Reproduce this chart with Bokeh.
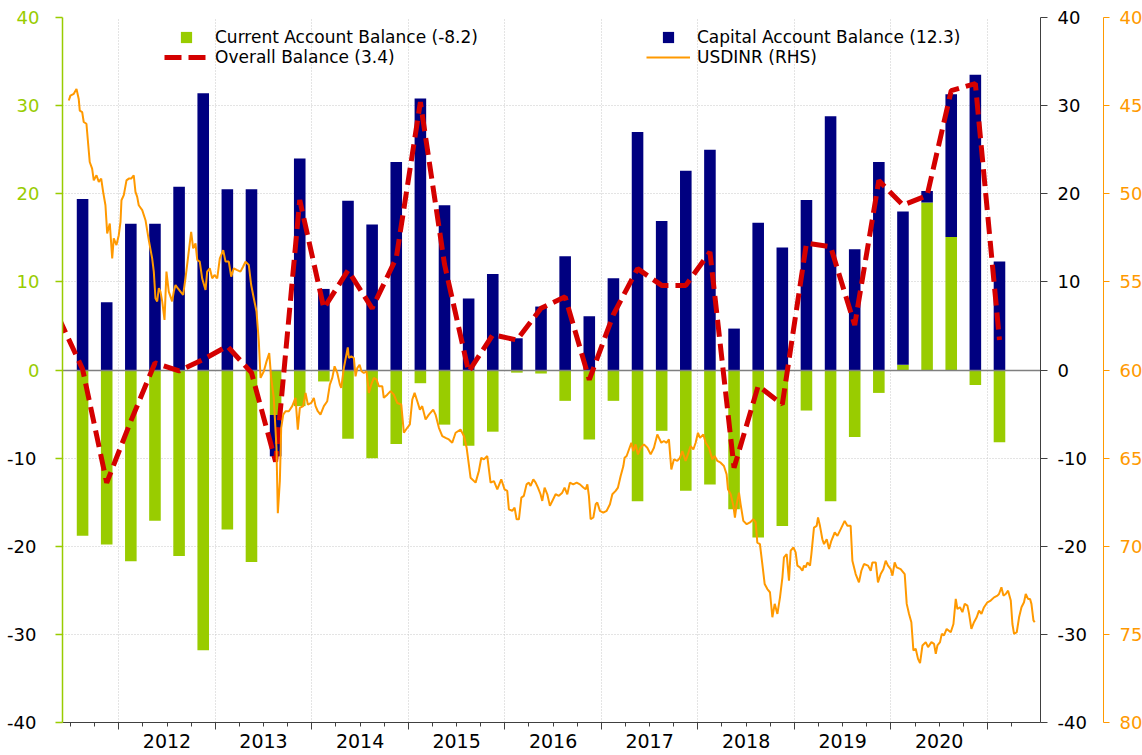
from bokeh.plotting import figure
from bokeh.models import (Range1d, LinearAxis, FixedTicker, Legend, LegendItem,
                          ColumnDataSource, Grid, CustomJSTickFormatter)
from bokeh.embed import file_html
from bokeh.resources import INLINE

# ---------------- data ----------------
quarters = ["2011Q3", "2011Q4",
            "2012Q1", "2012Q2", "2012Q3", "2012Q4",
            "2013Q1", "2013Q2", "2013Q3", "2013Q4",
            "2014Q1", "2014Q2", "2014Q3", "2014Q4",
            "2015Q1", "2015Q2", "2015Q3", "2015Q4",
            "2016Q1", "2016Q2", "2016Q3", "2016Q4",
            "2017Q1", "2017Q2", "2017Q3", "2017Q4",
            "2018Q1", "2018Q2", "2018Q3", "2018Q4",
            "2019Q1", "2019Q2", "2019Q3", "2019Q4",
            "2020Q1", "2020Q2", "2020Q3", "2020Q4",
            "2021Q1"]
current_account = [-18.8, -19.8,
                   -21.7, -17.1, -21.1, -31.8,
                   -18.1, -21.8, -5.1, -4.1,
                   -1.3, -7.8, -10.0, -8.4,
                   -1.5, -6.2, -8.6, -7.0,
                   -0.3, -0.4, -3.5, -7.9,
                   -3.5, -14.9, -6.9, -13.7,
                   -13.0, -15.8, -19.0, -17.7,
                   -4.6, -14.9, -7.6, -2.6,
                   0.6, 19.0, 15.1, -1.7,
                   -8.2]
capital_account = [19.4, 7.7,
                   16.6, 16.6, 20.8, 31.4,
                   20.5, 20.5, -4.7, 24.0,
                   9.2, 19.2, 16.5, 23.6,
                   30.8, 18.7, 8.1, 10.9,
                   3.6, 7.2, 12.9, 6.1,
                   10.4, 27.0, 16.9, 22.6,
                   25.0, 4.7, 16.7, 13.9,
                   19.3, 28.8, 13.7, 23.6,
                   17.4, 1.3, 16.2, 33.5,
                   12.3]
ob_quarters = ["2011Q2"] + quarters
overall_balance = [6.0, 0.1, -12.8,
                   -5.8, 0.8, -0.1, 1.2,
                   2.7, -0.3, -10.4, 19.3,
                   7.0, 11.3, 7.0, 12.7,
                   30.4, 12.0, -0.2, 4.0,
                   3.4, 7.0, 8.3, -1.1,
                   6.3, 11.5, 9.6, 9.6,
                   13.4, -11.1, -1.8, -3.9,
                   14.4, 14.0, 5.1, 21.5,
                   18.7, 19.8, 31.7, 32.5,
                   3.4]

usdinr_dates = [2011.482, 2011.499, 2011.534, 2011.562, 2011.585, 2011.596, 2011.621, 2011.637, 2011.665,
                2011.699, 2011.724, 2011.741, 2011.769, 2011.793, 2011.818, 2011.838, 2011.862, 2011.880,
                2011.907, 2011.932, 2011.948, 2011.976, 2012.000, 2012.018, 2012.028, 2012.052, 2012.080,
                2012.104, 2012.129, 2012.155, 2012.173, 2012.191, 2012.207, 2012.243, 2012.277, 2012.311,
                2012.346, 2012.363, 2012.380, 2012.398, 2012.415, 2012.432, 2012.450, 2012.474, 2012.494,
                2012.518, 2012.553, 2012.570, 2012.588, 2012.611, 2012.639, 2012.667, 2012.691, 2012.725,
                2012.750, 2012.771, 2012.795, 2012.813, 2012.839, 2012.864, 2012.899, 2012.916, 2012.943,
                2012.968, 2012.992, 2013.020, 2013.047, 2013.082, 2013.106, 2013.140, 2013.165, 2013.192,
                2013.227, 2013.261, 2013.289, 2013.313, 2013.347, 2013.372, 2013.399, 2013.427, 2013.451,
                2013.469, 2013.503, 2013.531, 2013.559, 2013.579, 2013.606, 2013.634, 2013.648, 2013.669,
                2013.683, 2013.704, 2013.728, 2013.762, 2013.797, 2013.831, 2013.855, 2013.876, 2013.911,
                2013.935, 2013.959, 2013.994, 2014.021, 2014.039, 2014.062, 2014.090, 2014.125, 2014.160,
                2014.187, 2014.212, 2014.236, 2014.264, 2014.291, 2014.305, 2014.332, 2014.373, 2014.384,
                2014.409, 2014.436, 2014.453, 2014.471, 2014.495, 2014.515, 2014.539, 2014.567, 2014.591,
                2014.616, 2014.643, 2014.671, 2014.695, 2014.730, 2014.746, 2014.782, 2014.816, 2014.850,
                2014.885, 2014.927, 2014.954, 2014.989, 2015.016, 2015.041, 2015.065, 2015.093, 2015.120,
                2015.144, 2015.179, 2015.213, 2015.258, 2015.282, 2015.317, 2015.352, 2015.386, 2015.420,
                2015.455, 2015.490, 2015.541, 2015.576, 2015.604, 2015.645, 2015.697, 2015.731, 2015.756,
                2015.783, 2015.818, 2015.852, 2015.887, 2015.922, 2015.963, 2015.997, 2016.025, 2016.042,
                2016.077, 2016.101, 2016.122, 2016.146, 2016.171, 2016.197, 2016.225, 2016.249, 2016.267,
                2016.295, 2016.319, 2016.343, 2016.370, 2016.388, 2016.412, 2016.440, 2016.467, 2016.492,
                2016.526, 2016.560, 2016.595, 2016.619, 2016.647, 2016.674, 2016.709, 2016.744, 2016.778,
                2016.813, 2016.837, 2016.855, 2016.871, 2016.889, 2016.917, 2016.941, 2016.958, 2016.985,
                2017.020, 2017.055, 2017.089, 2017.114, 2017.148, 2017.172, 2017.200, 2017.228, 2017.241,
                2017.262, 2017.286, 2017.311, 2017.331, 2017.355, 2017.379, 2017.407, 2017.441, 2017.476,
                2017.511, 2017.545, 2017.580, 2017.597, 2017.621, 2017.648, 2017.676, 2017.700, 2017.725,
                2017.752, 2017.787, 2017.814, 2017.839, 2017.873, 2017.897, 2017.925, 2017.953, 2017.977,
                2018.001, 2018.022, 2018.057, 2018.081, 2018.115, 2018.150, 2018.174, 2018.202, 2018.236,
                2018.270, 2018.298, 2018.312, 2018.340, 2018.368, 2018.384, 2018.402, 2018.426, 2018.443,
                2018.471, 2018.506, 2018.540, 2018.575, 2018.599, 2018.616, 2018.643, 2018.668, 2018.692,
                2018.720, 2018.747, 2018.772, 2018.796, 2018.824, 2018.851, 2018.876, 2018.892, 2018.920,
                2018.944, 2018.962, 2018.990, 2019.013, 2019.031, 2019.058, 2019.083, 2019.099, 2019.117,
                2019.135, 2019.162, 2019.176, 2019.203, 2019.231, 2019.245, 2019.265, 2019.290, 2019.307,
                2019.335, 2019.359, 2019.383, 2019.418, 2019.446, 2019.480, 2019.521, 2019.549, 2019.583,
                2019.601, 2019.635, 2019.669, 2019.694, 2019.721, 2019.763, 2019.791, 2019.808, 2019.843,
                2019.866, 2019.894, 2019.922, 2019.946, 2019.970, 2019.998, 2020.016, 2020.039, 2020.060,
                2020.101, 2020.143, 2020.164, 2020.188, 2020.212, 2020.233, 2020.257, 2020.281, 2020.302,
                2020.327, 2020.361, 2020.385, 2020.420, 2020.447, 2020.465, 2020.482, 2020.509, 2020.527,
                2020.550, 2020.578, 2020.620, 2020.648, 2020.672, 2020.689, 2020.716, 2020.741, 2020.765,
                2020.793, 2020.810, 2020.834, 2020.861, 2020.889, 2020.913, 2020.938, 2020.965, 2021.000,
                2021.034, 2021.069, 2021.104, 2021.120, 2021.145, 2021.166, 2021.190, 2021.214, 2021.242,
                2021.259, 2021.276, 2021.304, 2021.328, 2021.353, 2021.379, 2021.397, 2021.421, 2021.442,
                2021.456, 2021.477, 2021.490]
usdinr = [44.71, 44.43, 44.33, 44.05, 44.62, 45.28, 45.37, 45.93, 46.03,
          48.20, 48.57, 49.24, 48.95, 49.33, 49.14, 49.89, 50.65, 52.25,
          51.69, 53.67, 52.53, 52.91, 52.35, 51.59, 50.37, 50.08, 49.24,
          49.14, 49.14, 48.95, 49.89, 50.18, 50.65, 50.93, 51.50, 52.63,
          53.67, 54.42, 55.93, 56.11, 55.36, 55.55, 56.11, 57.16, 54.42,
          55.55, 56.11, 55.55, 55.18, 55.36, 55.55, 55.74, 54.80, 53.29,
          52.16, 53.10, 52.82, 53.76, 53.85, 54.80, 55.46, 54.42, 54.23,
          54.80, 54.61, 54.80, 53.67, 53.20, 53.85, 53.85, 54.70, 54.23,
          54.33, 54.42, 54.13, 53.85, 54.04, 55.18, 55.93, 56.68, 58.38,
          60.45, 60.07, 59.51, 59.04, 60.45, 61.58, 64.41, 68.13, 66.30,
          63.28, 62.53, 62.34, 62.34, 62.05, 61.58, 63.38, 62.15, 62.05,
          61.30, 61.96, 61.87, 61.58, 62.05, 62.34, 62.53, 62.05, 61.77,
          60.83, 60.45, 59.79, 60.17, 60.83, 61.02, 59.89, 58.72, 59.32,
          59.23, 59.32, 60.36, 59.89, 59.70, 60.07, 60.17, 60.07, 61.30,
          60.83, 60.45, 60.55, 60.92, 60.92, 61.58, 61.40, 61.20, 61.40,
          61.87, 61.96, 63.56, 63.28, 63.09, 61.68, 61.30, 61.77, 62.25,
          62.05, 62.81, 62.53, 62.25, 62.53, 63.28, 63.75, 63.85, 63.94,
          64.13, 63.56, 63.38, 63.75, 64.41, 66.11, 66.39, 65.73, 64.98,
          65.07, 64.88, 66.39, 66.30, 66.77, 66.20, 66.77, 66.86, 67.90,
          67.99, 67.81, 68.47, 68.47, 67.24, 67.14, 66.49, 66.39, 66.58,
          66.20, 66.39, 66.67, 67.05, 67.43, 66.67, 67.05, 67.71, 67.43,
          67.05, 67.14, 66.96, 66.67, 67.05, 66.39, 66.49, 66.39, 66.49,
          66.67, 66.77, 66.49, 67.14, 68.47, 68.37, 67.62, 67.52, 67.99,
          68.09, 67.99, 67.62, 67.05, 66.86, 66.67, 66.01, 65.45, 64.98,
          64.88, 64.51, 64.13, 64.60, 64.22, 64.79, 64.41, 64.22, 64.41,
          64.79, 64.41, 63.66, 63.85, 64.13, 64.03, 64.13, 63.94, 65.64,
          65.07, 65.16, 64.98, 64.60, 65.16, 64.79, 64.32, 64.51, 64.13,
          63.56, 63.85, 63.66, 64.13, 64.41, 65.07, 64.88, 65.16, 65.26,
          65.45, 65.92, 66.77, 67.05, 67.71, 68.37, 67.62, 66.96, 67.62,
          68.56, 68.75, 68.65, 68.47, 68.65, 69.79, 69.88, 71.01, 72.14,
          72.43, 72.61, 74.03, 73.27, 73.84, 72.90, 71.76, 70.63, 70.45,
          71.95, 70.25, 70.07, 70.35, 71.10, 71.20, 71.39, 71.10, 71.20,
          70.92, 71.10, 70.45, 68.94, 68.84, 68.37, 68.84, 69.60, 69.88,
          69.60, 70.16, 69.69, 69.22, 69.41, 69.03, 68.56, 68.84, 68.84,
          70.82, 71.58, 72.05, 71.39, 71.01, 71.10, 71.39, 70.92, 70.92,
          72.05, 71.58, 71.30, 70.82, 71.10, 71.30, 71.67, 70.92, 71.20,
          71.30, 71.58, 73.27, 73.84, 74.31, 75.91, 75.82, 76.39, 76.63,
          75.63, 75.44, 75.72, 75.44, 75.54, 76.10, 75.63, 75.44, 74.97,
          75.06, 74.69, 74.88, 74.41, 72.99, 73.56, 73.46, 73.74, 73.27,
          73.37, 73.84, 74.69, 74.31, 74.03, 73.65, 73.84, 73.46, 73.18,
          73.08, 72.90, 72.80, 72.71, 72.33, 72.80, 72.71, 72.52, 73.08,
          74.41, 74.97, 74.88, 74.03, 73.46, 73.18, 72.71, 72.99, 72.99,
          73.27, 74.21, 74.31]

years = [2012, 2013, 2014, 2015, 2016, 2017, 2018, 2019, 2020]
left_ticks = [-40, -30, -20, -10, 0, 10, 20, 30, 40]
usd_ticks = [40, 45, 50, 55, 60, 65, 70, 75, 80]

# ---------------- styling ----------------
GREEN = "#99cc00"
NAVY = "#000080"
RED = "#d40000"
ORANGE = "#ff9900"
GRIDC = "#c8c8c8"
FONT = "DejaVu Sans"


def qmid(q):
    return int(q[:4]) + (int(q[5]) - 0.5) / 4.0


qx = [qmid(q) for q in quarters]
ob_x = [qmid(q) for q in ob_quarters]
ka_bottom = [c if c * k > 0 else 0.0 for c, k in zip(current_account, capital_account)]
ka_top = [b + k for b, k in zip(ka_bottom, capital_account)]

year_bounds = years + [years[-1] + 1]
quarter_bounds = [x - 0.125 for x in qx] + [qx[-1] + 0.125]
year_mids = [y + 0.5 for y in years]
neg_ticks = [t for t in left_ticks if t < 0]

PLAIN = "return tick.toString()"

X0, X1 = 2011.417, 2021.55
FW, FH = 978, 705

p = figure(frame_width=FW, frame_height=FH,
           x_range=Range1d(X0, X1), y_range=Range1d(-40, 40),
           x_axis_type=None, y_axis_type=None,
           output_backend="svg", toolbar_location=None,
           min_border_left=62, min_border_top=17, min_border_bottom=0, min_border_right=0)
p.extra_y_ranges = {"usd": Range1d(80, 40)}
p.outline_line_color = None
p.background_fill_color = "white"
p.border_fill_color = "white"

# grids
p.add_layout(Grid(dimension=1, ticker=FixedTicker(ticks=left_ticks),
                  grid_line_color=GRIDC, grid_line_dash="1 2", grid_line_width=1))
p.add_layout(Grid(dimension=0, ticker=FixedTicker(ticks=year_bounds),
                  grid_line_color=GRIDC, grid_line_dash="1 2", grid_line_width=1))

# left axis: green line/ticks, zero and positive labels green
yl = LinearAxis(ticker=FixedTicker(ticks=left_ticks),
                formatter=CustomJSTickFormatter(code="return tick >= 0 ? tick.toString() : ''"),
                axis_line_color=GREEN, axis_line_width=1.5,
                major_tick_line_color=GREEN, major_tick_line_width=1.5,
                major_tick_out=7, major_tick_in=0,
                major_label_standoff=16,
                major_label_text_color=GREEN, major_label_text_font=FONT,
                major_label_text_font_size="18px")
p.add_layout(yl, "left")

# negative left labels in black (second left axis, labels pulled back over the first one)
yl_neg = LinearAxis(ticker=FixedTicker(ticks=neg_ticks),
                    formatter=CustomJSTickFormatter(code=PLAIN),
                    axis_line_color=None, major_tick_line_color=None,
                    major_tick_out=0, major_tick_in=0, major_label_standoff=-23,
                    major_label_text_color="black", major_label_text_font=FONT,
                    major_label_text_font_size="18px")
p.add_layout(yl_neg, "left")

# right inner axis (black)
yr = LinearAxis(ticker=FixedTicker(ticks=left_ticks),
                formatter=CustomJSTickFormatter(code=PLAIN),
                axis_line_color="#404040", axis_line_width=1,
                major_tick_line_color="#404040", major_tick_out=7, major_tick_in=0,
                major_label_standoff=10, major_label_text_color="black",
                major_label_text_font=FONT, major_label_text_font_size="18px")
p.add_layout(yr, "right")

# invisible spacer between the two right axes
ysp = LinearAxis(ticker=FixedTicker(ticks=left_ticks),
                 formatter=CustomJSTickFormatter(code="return ''"),
                 axis_line_color=None, major_tick_line_color=None,
                 major_tick_out=14, major_tick_in=0, major_label_standoff=0,
                 major_label_text_font_size="0px")
p.add_layout(ysp, "right")

# right outer axis (orange, USDINR inverted)
yu = LinearAxis(y_range_name="usd", ticker=FixedTicker(ticks=usd_ticks),
                formatter=CustomJSTickFormatter(code=PLAIN),
                axis_line_color=ORANGE, axis_line_width=1,
                major_tick_line_color=ORANGE, major_tick_out=6, major_tick_in=0,
                major_label_standoff=10, major_label_text_color=ORANGE,
                major_label_text_font=FONT, major_label_text_font_size="18px")
p.add_layout(yu, "right")

# bottom: tick axis then label axis
xt = LinearAxis(ticker=FixedTicker(ticks=year_bounds, minor_ticks=quarter_bounds),
                formatter=CustomJSTickFormatter(code="return ''"),
                axis_line_color="#404040", axis_line_width=1,
                major_tick_line_color="#404040", major_tick_out=7, major_tick_in=0,
                minor_tick_line_color="#404040", minor_tick_out=4, minor_tick_in=0,
                major_label_standoff=0, major_label_text_font_size="0px")
p.add_layout(xt, "below")
xl = LinearAxis(ticker=FixedTicker(ticks=year_mids),
                formatter=CustomJSTickFormatter(code="return Math.floor(tick).toString()"),
                axis_line_color=None, major_tick_line_color=None, minor_tick_line_color=None,
                major_tick_out=0, major_tick_in=0, major_label_standoff=4,
                major_label_text_color="black", major_label_text_font=FONT,
                major_label_text_font_size="19px")
p.add_layout(xl, "below")

# bars
src = ColumnDataSource(dict(x=qx, ca=current_account, kb=ka_bottom, kt=ka_top))
r_ca = p.vbar(x="x", top="ca", bottom=0, width=0.12, source=src,
              fill_color=GREEN, line_color=None)
r_ka = p.vbar(x="x", top="kt", bottom="kb", width=0.12, source=src,
              fill_color=NAVY, line_color=None)

# zero line
p.hspan(y=[0], line_color="#7f7f7f", line_width=1.5)

# lines
r_ob = p.line(ob_x, overall_balance, line_color=RED, line_width=5, line_dash="17 7")
r_usd = p.line(usdinr_dates, usdinr, y_range_name="usd", line_color=ORANGE, line_width=2)


def add_legend(renderer, label, gw, gh, loc, standoff):
    lg = Legend(items=[LegendItem(label=label, renderers=[renderer])],
                location=loc, glyph_width=gw, glyph_height=gh, label_height=gh,
                label_standoff=standoff, padding=0, margin=0, spacing=0,
                border_line_color=None, background_fill_alpha=0,
                label_text_font=FONT, label_text_font_size="17px", label_text_color="black")
    p.add_layout(lg)


add_legend(r_ca, f"Current Account Balance ({current_account[-1]})", 14, 14, (117, FH - 30), 22)
add_legend(r_ob, f"Overall Balance ({overall_balance[-1]})", 44, 14, (102, FH - 50), 7)
add_legend(r_ka, f"Capital Account Balance ({capital_account[-1]})", 14, 14, (599, FH - 30), 22)
add_legend(r_usd, "USDINR (RHS)", 44, 14, (584, FH - 50), 7)

open("out.html", "w").write(file_html(p, INLINE))
